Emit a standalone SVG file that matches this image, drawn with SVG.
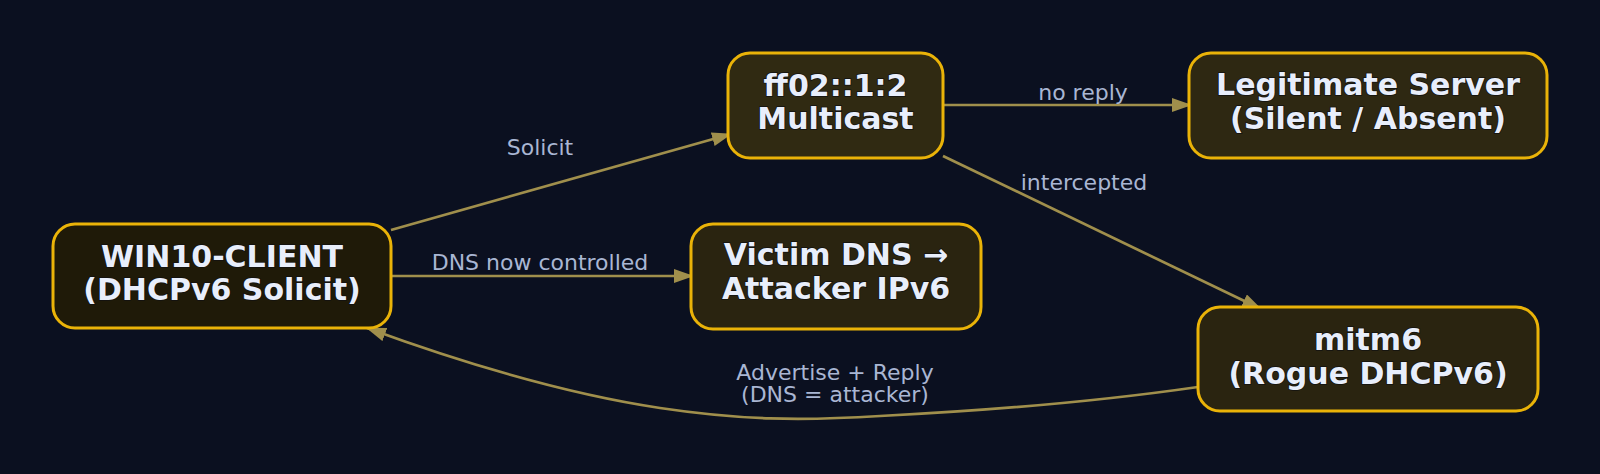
<svg xmlns="http://www.w3.org/2000/svg" width="1600" height="474" viewBox="0 0 1600 474">
  <defs>
    <marker id="ah" viewBox="0 0 20 14" refX="19" refY="7" markerWidth="20" markerHeight="14" markerUnits="userSpaceOnUse" orient="auto">
      <path d="M0,0 L20,7 L0,14 Z" fill="#a08f4c"/>
    </marker>
    <style>
      .bg { fill: #0b1020; }
      .node rect { stroke: #eab308; stroke-width: 3; }
      .nt { font-family: "DejaVu Sans", sans-serif; font-weight: bold; font-size: 30px; fill: #e8eefb; text-anchor: middle; stroke: #111; stroke-width: 1.5; paint-order: stroke; }
      .edge { fill: none; stroke: #a08f4c; stroke-width: 2.7; marker-end: url(#ah); }
      .lbl { font-family: "DejaVu Sans", sans-serif; font-size: 22px; fill: #a9b6d3; text-anchor: middle; }
    </style>
  </defs>
  <rect class="bg" x="0" y="0" width="1600" height="474"/>

  <g id="connectors">
    <line class="edge" x1="391" y1="230" x2="731" y2="134"/>
    <line class="edge" x1="943" y1="105" x2="1191" y2="105"/>
    <line class="edge" x1="943" y1="156" x2="1261" y2="309"/>
    <line class="edge" x1="391" y1="276" x2="693" y2="276"/>
    <path class="edge" d="M1198,387 C1080,404 960,412 880,416 C800,421 740,420 660,408 C560,393 460,362 367,328"/>
    <text class="lbl" x="540" y="155">Solicit</text>
    <text class="lbl" x="1083" y="100">no reply</text>
    <text class="lbl" x="1084" y="190">intercepted</text>
    <text class="lbl" x="540" y="270">DNS now controlled</text>
    <text class="lbl" x="835" y="380">Advertise + Reply</text>
    <text class="lbl" x="835" y="402">(DNS = attacker)</text>
  </g>

  <g id="win10-client" class="node">
    <rect x="53" y="224" width="338" height="104" rx="22" fill="#1f1a08"/>
    <text class="nt" x="222" y="267">WIN10-CLIENT</text>
    <text class="nt" x="222" y="300">(DHCPv6 Solicit)</text>
  </g>
  <g id="multicast" class="node">
    <rect x="728" y="53" width="215" height="105" rx="22" fill="#302a12"/>
    <text class="nt" x="835.5" y="96">ff02::1:2</text>
    <text class="nt" x="835.5" y="129">Multicast</text>
  </g>
  <g id="legit-server" class="node">
    <rect x="1189" y="53" width="358" height="105" rx="22" fill="#2e2812"/>
    <text class="nt" x="1368" y="95">Legitimate Server</text>
    <text class="nt" x="1368" y="129">(Silent / Absent)</text>
  </g>
  <g id="victim-dns" class="node">
    <rect x="691" y="224" width="290" height="105" rx="22" fill="#2a2410"/>
    <text class="nt" x="836" y="265">Victim DNS →</text>
    <text class="nt" x="836" y="299">Attacker IPv6</text>
  </g>
  <g id="mitm6" class="node">
    <rect x="1198" y="307" width="340" height="104" rx="22" fill="#2a2410"/>
    <text class="nt" x="1368" y="350">mitm6</text>
    <text class="nt" x="1368" y="384">(Rogue DHCPv6)</text>
  </g>
</svg>
